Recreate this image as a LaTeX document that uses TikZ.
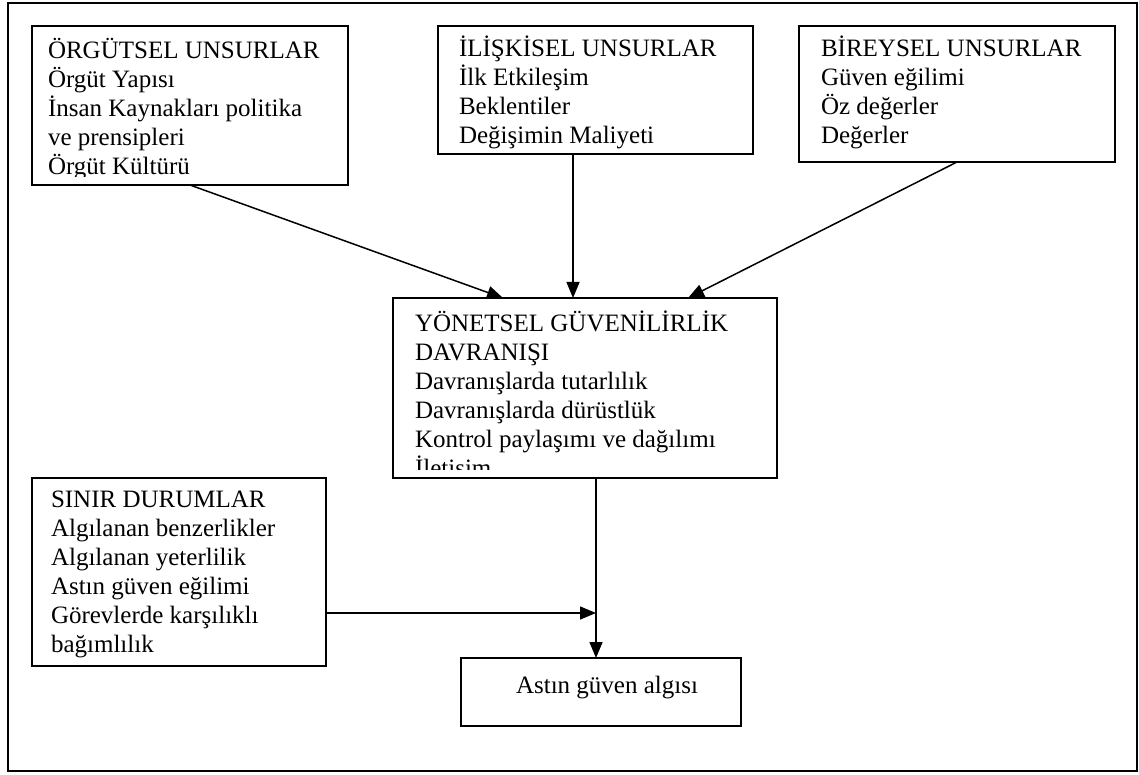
\documentclass[tikz,border=0pt]{standalone}
\usepackage{fontspec}
\setmainfont{Liberation Serif}
\usetikzlibrary{arrows.meta}
\begin{document}
\begin{tikzpicture}[x=1pt,y=-1pt,
  boxnode/.style={draw,line width=1.8pt,anchor=north west,inner sep=0pt,outer sep=0pt},
  framebox/.style={draw,line width=2.2pt,anchor=north west,inner sep=0pt,outer sep=0pt},
  txt/.style={anchor=base west,inner sep=0pt,outer sep=0pt,font=\fontsize{25}{29}\selectfont},
  ctxt/.style={anchor=base,inner sep=0pt,outer sep=0pt,font=\fontsize{25}{29}\selectfont},
  arr/.style={line width=1.5pt,-{Triangle[length=16pt,width=13pt]}}]
\useasboundingbox (0,0) rectangle (1139,775);
\node[framebox,minimum width=1129pt,minimum height=768pt] (frame) at (8,3) {};
% boxes
\node[boxnode,minimum width=316pt,minimum height=159pt] (org) at (32,26) {};
\node[boxnode,minimum width=315pt,minimum height=128pt] (ili) at (438,26) {};
\node[boxnode,minimum width=316pt,minimum height=136pt] (bir) at (799,26) {};
\node[boxnode,minimum width=384pt,minimum height=180pt] (yon) at (393,298) {};
\node[boxnode,minimum width=294pt,minimum height=188pt] (sin) at (32,478) {};
\node[boxnode,minimum width=280pt,minimum height=68pt] (ast) at (461,658) {};
% texts
\begin{scope}
\clip (32,26) rectangle (348,177);
\node[txt] (orgtxt) at (48,59) {\vtop{\hbox{ÖRGÜTSEL UNSURLAR}\hbox{Örgüt Yapısı}\hbox{İnsan Kaynakları politika}\hbox{ve prensipleri}\hbox{Örgüt Kültürü}}};
\end{scope}
\node[txt] (ilitxt) at (459,57) {\vtop{\hbox{İLİŞKİSEL UNSURLAR}\hbox{İlk Etkileşim}\hbox{Beklentiler}\hbox{Değişimin Maliyeti}}};
\node[txt] (birtxt) at (821,57) {\vtop{\hbox{BİREYSEL UNSURLAR}\hbox{Güven eğilimi}\hbox{Öz değerler}\hbox{Değerler}}};
\begin{scope}
\clip (393,298) rectangle (777,469);
\node[txt] (yontxt) at (415,331) {\vtop{\hbox{YÖNETSEL GÜVENİLİRLİK}\hbox{DAVRANIŞI}\hbox{Davranışlarda tutarlılık}\hbox{Davranışlarda dürüstlük}\hbox{Kontrol paylaşımı ve dağılımı}\hbox{İletişim}}};
\end{scope}
\node[txt] (sintxt) at (51,507) {\vtop{\hbox{SINIR DURUMLAR}\hbox{Algılanan benzerlikler}\hbox{Algılanan yeterlilik}\hbox{Astın güven eğilimi}\hbox{Görevlerde karşılıklı}\hbox{bağımlılık}}};
\node[ctxt] (asttxt) at (607,693) {Astın güven algısı};
% connectors
\draw[arr] ([xshift=158pt]org.south west) -- ([xshift=110pt]yon.north west);
\draw[arr] ([xshift=135pt]ili.south west) -- ([xshift=180pt]yon.north west);
\draw[arr] ([xshift=158pt]bir.south west) -- ([xshift=295pt]yon.north west);
\coordinate (vtop) at ([xshift=203pt]yon.south west);
\draw[arr] (vtop) -- (vtop |- ast.north);
\coordinate (hstart) at ([yshift=-135pt]sin.north east);
\draw[arr] (hstart) -- (hstart -| vtop);
\end{tikzpicture}
\end{document}
